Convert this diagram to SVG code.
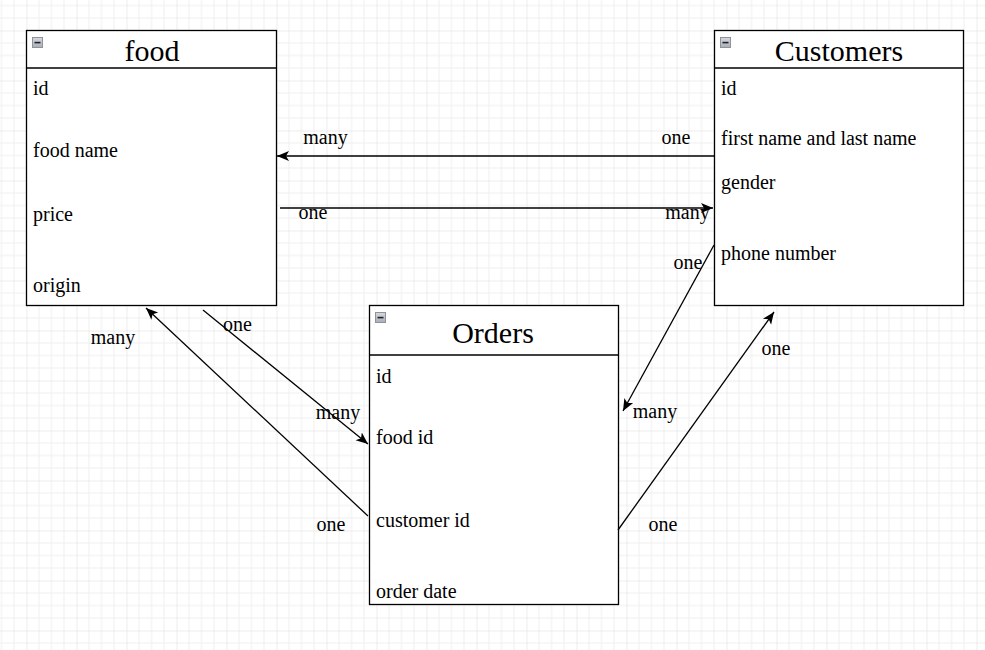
<svg xmlns="http://www.w3.org/2000/svg" width="985" height="650" viewBox="0 0 985 650">
<defs>
<pattern id="grid" patternUnits="userSpaceOnUse" x="26.5" y="30.5" width="50" height="50">
<path d="M12.5 0V50M25 0V50M37.5 0V50M0 12.5H50M0 25H50M0 37.5H50" stroke="#efefef" stroke-width="1" fill="none"/>
<path d="M0 0V50M0 0H50" stroke="#dcdcdc" stroke-width="1" fill="none"/>
</pattern>
<linearGradient id="ig" x1="0" y1="0" x2="0" y2="1">
<stop offset="0" stop-color="#d6d9de"/>
<stop offset="1" stop-color="#a9adb6"/>
</linearGradient>
<marker id="arr" markerUnits="userSpaceOnUse" markerWidth="14" markerHeight="12" viewBox="0 0 14 12" refX="12" refY="6" orient="auto">
<path d="M0 1 L12 6 L0 11 L3 6 Z" fill="#000"/>
</marker>
<g id="icon">
<rect x="0.5" y="0.5" width="10" height="10" fill="url(#ig)" stroke="#8d929c" stroke-width="1"/>
<rect x="2.5" y="4.8" width="6" height="1.6" fill="#222"/>
</g>
</defs>
<style>
.box{fill:#fff;stroke:#000;stroke-width:1.3}
.sep{stroke:#000;stroke-width:1.3}
.title{font-family:"Liberation Serif","Times New Roman",serif;font-size:30px;fill:#000;text-anchor:middle}
.attr{font-family:"Liberation Serif","Times New Roman",serif;font-size:20px;fill:#000}
.lbl{font-family:"Liberation Serif","Times New Roman",serif;font-size:20px;fill:#000;text-anchor:middle}
.edge{fill:none;stroke:#000;stroke-width:1.3;marker-end:url(#arr)}
</style>
<rect width="985" height="650" fill="#fff"/>
<rect width="985" height="650" fill="url(#grid)"/>

<g id="food">
<rect class="box" x="26.5" y="30.5" width="250" height="275"/>
<line class="sep" x1="26.5" y1="68" x2="276.5" y2="68"/>
<use href="#icon" x="32" y="37"/>
<text class="title" x="152" y="61">food</text>
<text class="attr" x="33" y="95">id</text>
<text class="attr" x="33" y="157">food name</text>
<text class="attr" x="33" y="221">price</text>
<text class="attr" x="33" y="292">origin</text>
</g>

<g id="customers">
<rect class="box" x="714.5" y="30.5" width="249" height="275"/>
<line class="sep" x1="714.5" y1="68" x2="963.5" y2="68"/>
<use href="#icon" x="720" y="37"/>
<text class="title" x="839" y="61">Customers</text>
<text class="attr" x="721" y="95">id</text>
<text class="attr" x="721" y="145">first name and last name</text>
<text class="attr" x="721" y="189">gender</text>
<text class="attr" x="721" y="260">phone number</text>
</g>

<g id="orders">
<rect class="box" x="369.5" y="305.5" width="249" height="299"/>
<line class="sep" x1="369.5" y1="355" x2="618.5" y2="355"/>
<use href="#icon" x="375" y="312"/>
<text class="title" x="493" y="343">Orders</text>
<text class="attr" x="376" y="383">id</text>
<text class="attr" x="376" y="444">food id</text>
<text class="attr" x="376" y="527">customer id</text>
<text class="attr" x="376" y="598">order date</text>
</g>

<g id="connectors">
<line class="edge" x1="715" y1="156" x2="277" y2="156"/>
<line class="edge" x1="280" y1="208" x2="713" y2="208"/>
<line class="edge" x1="203" y1="310" x2="368" y2="444"/>
<line class="edge" x1="368" y1="516" x2="146" y2="308"/>
<line class="edge" x1="714" y1="245" x2="623" y2="411"/>
<line class="edge" x1="618" y1="530" x2="774" y2="312"/>
</g>

<g id="labels">
<text class="lbl" x="325.5" y="144">many</text>
<text class="lbl" x="676" y="144">one</text>
<text class="lbl" x="313" y="219">one</text>
<text class="lbl" x="687.5" y="219">many</text>
<text class="lbl" x="237.5" y="331">one</text>
<text class="lbl" x="338" y="419">many</text>
<text class="lbl" x="113" y="344">many</text>
<text class="lbl" x="331" y="531">one</text>
<text class="lbl" x="688" y="269">one</text>
<text class="lbl" x="655" y="418">many</text>
<text class="lbl" x="776" y="355">one</text>
<text class="lbl" x="663" y="531">one</text>
</g>
</svg>
